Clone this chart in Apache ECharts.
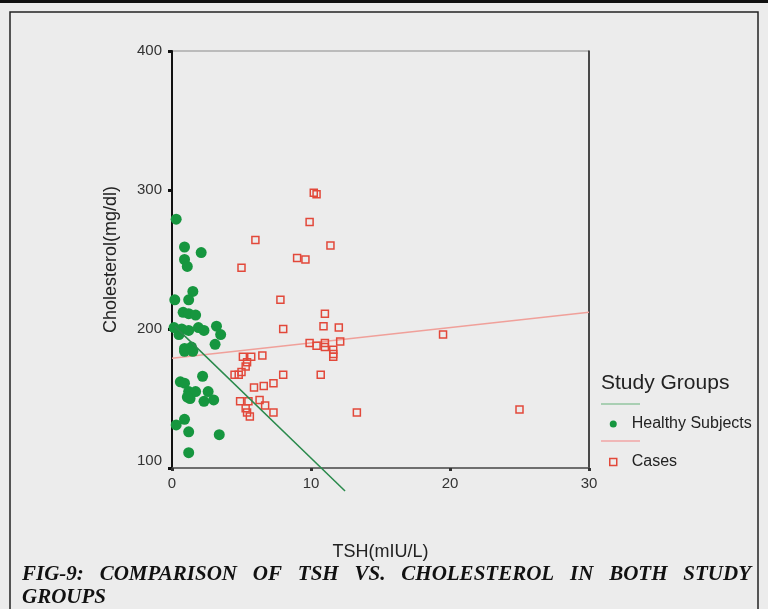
<!DOCTYPE html>
<html><head><meta charset="utf-8">
<script src="https://cdn.jsdelivr.net/npm/echarts@6/dist/echarts.min.js"></script>
<style>html,body{margin:0;padding:0;background:#ececec}#c{width:768px;height:609px}</style>
</head><body><div id="c"></div>
<script>
// ---- data ----
const healthyTSH  = [0.3,0.9,2.1,0.9,1.1,1.5,0.2,1.2,0.8,1.2,1.7,0.7,1.2,1.9,2.3,3.2,3.5,0.5,3.1,0.9,1.4,1.5,0.9,2.2,0.6,0.9,1.2,1.7,1.3,1.1,2.6,2.3,3.0,0.9,0.3,1.2,3.4,1.2,0.15];
const healthyChol = [279,259,255,250,245,227,221,221,212,211,210,200,199,201,199,202,196,196,189,186,187,184,184,166,162,161,155,155,150,151,155,148,149,135,131,126,124,111,201];
const casesTSH  = [10.2,10.4,9.9,6.0,11.4,9.0,9.6,5.0,7.8,11.0,8.0,10.9,12.0,9.9,10.4,11.0,11.0,11.6,11.6,11.6,12.1,5.1,5.7,6.5,5.4,5.3,5.0,4.5,4.8,8.0,10.7,5.9,6.6,7.3,4.9,5.5,6.3,6.7,5.3,5.4,5.6,7.3,13.3,19.5,25.0];
const casesChol = [298,297,277,264,260,251,250,244,221,211,200,202,201,190,188,190,187,185,182,180,191,180,180,181,176,173,169,167,167,167,167,158,159,161,148,148,149,145,143,140,137,140,140,196,142];
const healthyFitTSH  = [0.2, 12.45];
const healthyFitChol = [201.9, 83.5];
const casesFitTSH  = [0, 30];
const casesFitChol = [179, 212];
const xTicks = [0, 10, 20, 30];
const yTicks = [100, 200, 300, 400];
const seriesNames = ['Healthy Subjects', 'Cases'];
const legendTitle = 'Study Groups';
const xName = 'TSH(mIU/L)';
const yName = 'Cholesterol(mg/dl)';
const captionWords = ['FIG-9:','COMPARISON','OF','TSH','VS.','CHOLESTEROL','IN','BOTH','STUDY'];
const captionLine2 = 'GROUPS';

// ---- layout / style ----
const GREEN = '#16963f', RED = '#e2483a';
const zip = (a, b) => a.map((v, i) => [v, b[i]]);
const font = 'Liberation Sans, Arial, sans-serif';
const capFont = 'italic bold 21px Liberation Serif, Times New Roman, serif';
const capLeft = 22, capRight = 751;

// justify caption line 1 between capLeft and capRight
const mctx = document.createElement('canvas').getContext('2d');
mctx.font = capFont;
const wWidths = captionWords.map(w => mctx.measureText(w).width);
const wGap = (capRight - capLeft - wWidths.reduce((s, v) => s + v, 0)) / (captionWords.length - 1);
const capX = [];
wWidths.reduce((x, w) => { capX.push(x); return x + w + wGap; }, capLeft);

const chart = echarts.init(document.getElementById('c'), null, {renderer: 'canvas'});
const graphic = [
  {type:'rect', shape:{x:0,y:0,width:768,height:3}, style:{fill:'#111'}},
  {type:'rect', shape:{x:10,y:12,width:748,height:620}, style:{fill:'none', stroke:'#222', lineWidth:1.5}},
  {type:'text', x:601, y:383, style:{text:legendTitle, font:'21px ' + font, fill:'#222', verticalAlign:'middle'}},
  {type:'line', shape:{x1:601,y1:404,x2:640,y2:404}, style:{stroke:'#93c6a0', lineWidth:1.5}},
  {type:'line', shape:{x1:601,y1:441,x2:640,y2:441}, style:{stroke:'#f2a6a6', lineWidth:1.5}},
  {type:'text', x:capLeft, y:598, style:{text:captionLine2, font:capFont, fill:'#111', verticalAlign:'middle'}}
];
captionWords.forEach((w, i) => graphic.push({type:'text', x:capX[i], y:575,
  style:{text:w, font:capFont, fill:'#111', verticalAlign:'middle'}}));

chart.setOption({
  backgroundColor: '#ececec',
  animation: false,
  textStyle: {fontFamily: font},
  grid: {left:172, top:51, width:417, height:417, show:true, borderColor:'#8a8a8a', borderWidth:1, backgroundColor:'transparent'},
  legend: {
    data: [
      {name: seriesNames[0], icon: 'circle', itemStyle: {color: GREEN}},
      {name: seriesNames[1], icon: 'path://M0,0H10V10H0Z', itemStyle: {color: 'transparent', borderColor: RED, borderWidth: 1.5}}
    ],
    orient: 'vertical', left: 609, top: 416, itemGap: 22, padding: 0,
    itemWidth: 7, itemHeight: 7,
    textStyle: {fontSize: 16, color: '#222', fontFamily: font, padding: [0, 0, 0, 10]}
  },
  xAxis: [{
    type: 'value', min: xTicks[0], max: xTicks[xTicks.length-1], interval: xTicks[1]-xTicks[0],
    name: xName, nameLocation: 'middle', nameGap: 75,
    nameTextStyle: {fontSize: 18, color: '#222'},
    axisLine: {lineStyle: {color: '#555', width: 1.5}},
    axisTick: {show: true, length: 3, lineStyle: {color: '#333', width: 3}},
    axisLabel: {margin: 8, fontSize: 15, color: '#333'},
    splitLine: {show: false}
  }],
  yAxis: [{
    type: 'value', min: yTicks[0], max: yTicks[yTicks.length-1], interval: yTicks[1]-yTicks[0],
    name: yName, nameLocation: 'middle', nameGap: 52,
    nameTextStyle: {fontSize: 18, color: '#222'},
    axisLine: {lineStyle: {color: '#111', width: 2}},
    axisTick: {show: true, length: 4, lineStyle: {color: '#111', width: 3}},
    axisLabel: {margin: 10, fontSize: 15, color: '#333',
      formatter: v => v === yTicks[0] ? '{low|' + v + '}' : String(v),
      rich: {low: {fontSize: 15, color: '#333', padding: [0, 0, 14, 0]}}},
    splitLine: {show: false}
  }, {
    type: 'value', position: 'right', min: yTicks[0], max: yTicks[yTicks.length-1], interval: yTicks[1]-yTicks[0],
    axisLine: {show: true, lineStyle: {color: '#222', width: 1.5}},
    axisTick: {show: false}, axisLabel: {show: false}, splitLine: {show: false}
  }],
  series: [
    {name: 'Cases fit', type: 'line', data: zip(casesFitTSH, casesFitChol), symbol: 'none',
     lineStyle: {color: '#f0a09a', width: 1.5}, silent: true, z: 1},
    {name: 'Healthy fit', type: 'line', data: zip(healthyFitTSH, healthyFitChol), symbol: 'none', clip: false,
     lineStyle: {color: '#2a8a4c', width: 1.5}, silent: true, z: 3},
    {name: seriesNames[0], type: 'scatter', data: zip(healthyTSH, healthyChol), symbol: 'circle', symbolSize: 11,
     itemStyle: {color: GREEN, opacity: 1}, z: 2},
    {name: seriesNames[1], type: 'scatter', data: zip(casesTSH, casesChol), symbol: 'rect', symbolSize: 7,
     itemStyle: {color: 'transparent', borderColor: RED, borderWidth: 1.5, opacity: 1}, z: 2}
  ],
  graphic: graphic
});
</script></body></html>
